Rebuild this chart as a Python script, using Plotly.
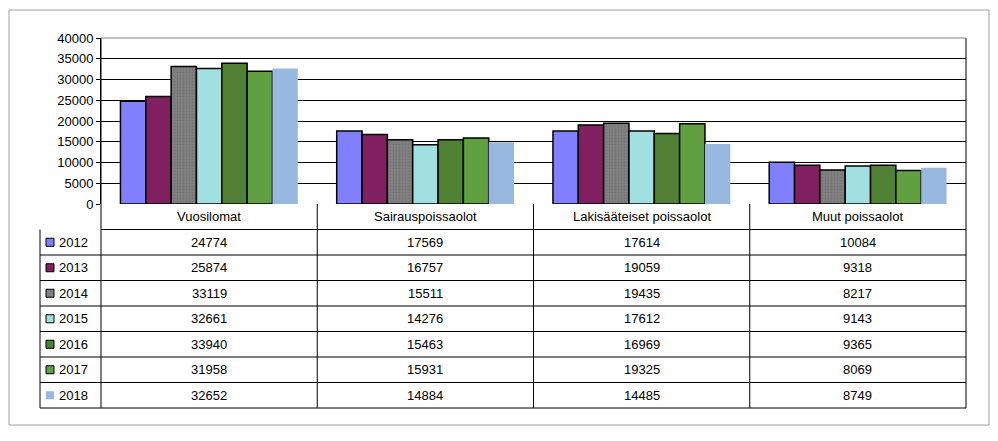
import plotly.graph_objects as go

categories = ["Vuosilomat", "Sairauspoissaolot", "Lakisääteiset poissaolot", "Muut poissaolot"]
years = ["2012", "2013", "2014", "2015", "2016", "2017", "2018"]
values = {
    "2012": [24774, 17569, 17614, 10084],
    "2013": [25874, 16757, 19059, 9318],
    "2014": [33119, 15511, 19435, 8217],
    "2015": [32661, 14276, 17612, 9143],
    "2016": [33940, 15463, 16969, 9365],
    "2017": [31958, 15931, 19325, 8069],
    "2018": [32652, 14884, 14485, 8749],
}
colors = ["#8080FF", "#802060", "#808080", "#A0E0E0", "#4F8033", "#60A040", "#99B8E0"]
outlined = [True, True, True, True, True, True, False]

fig = go.Figure()
for i, y in enumerate(years):
    fig.add_trace(go.Bar(
        x=list(range(len(categories))), y=values[y], name=y,
        marker=dict(color=colors[i],
                    line=dict(color="black", width=1.5 if outlined[i] else 0),
                    pattern=dict(shape=".", fgcolor="#6a6a6a", size=3, solidity=0.3) if i == 2 else None),
        showlegend=False))

OFF = 8  # page body margin
W, H = 998 - 2 * OFF, 441 - 2 * OFF
L, R, T, B = 101 - OFF, 966 - OFF, 38 - OFF, 204 - OFF
ph = B - T
def py(p):
    return (B - p) / ph
def px_x(p):
    return (p - L) / (R - L)

shapes = []
ann = []
rowh = 25.5
nrows = 1 + len(years)
bottom = B + rowh * nrows
colw = (R - L) / len(categories)
lc = 40 - OFF
line = dict(color="black", width=1)
shapes.append(dict(type="line", xref="paper", yref="paper", x0=0, x1=1, y0=py(B + rowh), y1=py(B + rowh), line=line))
for r in range(2, nrows + 1):
    yy = B + rowh * r
    shapes.append(dict(type="line", xref="paper", yref="paper", x0=px_x(lc), x1=1, y0=py(yy), y1=py(yy), line=line))
for c in range(len(categories) + 1):
    xx = L + colw * c
    shapes.append(dict(type="line", xref="paper", yref="paper", x0=px_x(xx), x1=px_x(xx), y0=py(bottom),
                       y1=1 if c in (0, len(categories)) else 0, line=line))
shapes.append(dict(type="line", xref="paper", yref="paper", x0=px_x(lc), x1=px_x(lc), y0=py(bottom), y1=py(B + rowh), line=line))
shapes.append(dict(type="line", xref="paper", yref="paper", x0=0, x1=1, y0=1, y1=1, line=dict(color="#808080", width=1)))
shapes.append(dict(type="rect", xref="paper", yref="paper", x0=px_x(9 - OFF), x1=px_x(989 - OFF),
                   y0=py(10 - OFF), y1=py(425 - OFF), line=dict(color="#A0A0A0", width=1)))

font = dict(family="Liberation Sans, Arial", size=13, color="black")
for c, cat in enumerate(categories):
    ann.append(dict(x=px_x(L + colw * (c + 0.5)), y=py(B + rowh / 2), xref="paper", yref="paper", text=cat,
                    showarrow=False, xanchor="center", yanchor="middle", font=font))
for r, y in enumerate(years):
    yc = B + rowh * (r + 1.5)
    shapes.append(dict(type="rect", xref="paper", yref="paper", x0=px_x(46 - OFF), x1=px_x(54 - OFF), y0=py(yc + 4), y1=py(yc - 4),
                       fillcolor=colors[r], line=dict(color="black", width=1 if outlined[r] else 0)))
    ann.append(dict(x=px_x(57 - OFF), y=py(yc), xref="paper", yref="paper", text=y, showarrow=False,
                    xanchor="left", yanchor="middle", font=font))
    for c in range(len(categories)):
        ann.append(dict(x=px_x(L + colw * (c + 0.5)), y=py(yc), xref="paper", yref="paper", text=str(values[y][c]),
                        showarrow=False, xanchor="center", yanchor="middle", font=font))

fig.update_layout(
    width=W, height=H, margin=dict(l=L, r=W - R, t=T, b=H - B, autoexpand=False),
    plot_bgcolor="white", paper_bgcolor="white",
    barmode="group", bargap=0.18, bargroupgap=0,
    xaxis=dict(range=[-0.5, 3.5], showticklabels=False, showgrid=False, zeroline=False, fixedrange=True),
    yaxis=dict(range=[0, 40000], dtick=5000, tickformat="d", showgrid=True, gridcolor="black", gridwidth=1, zeroline=False,
               ticks="outside", ticklen=4, tickcolor="black", showline=True, linecolor="black",
               tickfont=font),
    shapes=shapes, annotations=ann,
)
fig.write_html("out.html")
